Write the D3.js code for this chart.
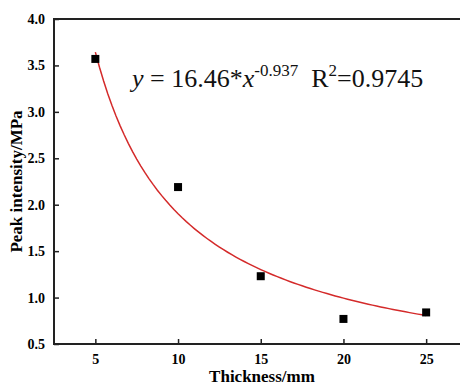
<!DOCTYPE html>
<html>
<head>
<meta charset="utf-8">
<script src="https://cdn.jsdelivr.net/npm/d3@7"></script>
<style>
  body { margin: 0; background: #fff; }
</style>
</head>
<body>
<svg width="460" height="387"></svg>
<script>
// measured points
const thickness = [5, 10, 15, 20, 25];
const peak = [3.57, 2.19, 1.23, 0.77, 0.84];

// fitted power law y = a * x^b (from the label)
const fitA = 16.46;
const fitB = -0.937;
const fitR2 = "0.9745";

const xTicks = [5, 10, 15, 20, 25];
const yTicks = [0.5, 1.0, 1.5, 2.0, 2.5, 3.0, 3.5, 4.0];

const serif = "'Liberation Serif', 'Times New Roman', Times, serif";

const svg = d3.select("svg").attr("font-family", serif);

const x = d3.scaleLinear().domain([2.5, 27.5]).range([54, 467.5]);
const y = d3.scaleLinear().domain([0.5, 4.0]).range([344, 19]);

// frame
svg.append("rect")
    .attr("x", x(2.5)).attr("y", y(4.0))
    .attr("width", x(27.5) - x(2.5)).attr("height", y(0.5) - y(4.0))
    .attr("fill", "none").attr("stroke", "#222").attr("stroke-width", 2);

// axes, ticks pointing inward
const xAxis = svg.append("g")
    .attr("transform", "translate(0," + y(0.5) + ")")
    .call(d3.axisBottom(x).tickValues(xTicks).tickSizeInner(-5).tickSizeOuter(0).tickPadding(10));
const yAxis = svg.append("g")
    .attr("transform", "translate(" + x(2.5) + ",0)")
    .call(d3.axisLeft(y).tickValues(yTicks).tickFormat(d3.format(".1f")).tickSizeInner(-5).tickSizeOuter(0).tickPadding(9));

[xAxis, yAxis].forEach(g => {
    g.attr("font-family", serif).attr("font-size", 14).attr("font-weight", "bold");
    g.select(".domain").remove();
    g.selectAll(".tick line").attr("stroke", "#222").attr("stroke-width", 1.5);
    g.selectAll(".tick text").attr("fill", "#000");
});

// fit curve
const curveX = d3.range(5, 25.01, 0.25);
svg.append("path")
    .datum(curveX)
    .attr("fill", "none")
    .attr("stroke", "#d42a2a")
    .attr("stroke-width", 1.5)
    .attr("d", d3.line().x(d => x(d)).y(d => y(fitA * Math.pow(d, fitB))));

// points
svg.selectAll(".pt")
    .data(thickness)
    .enter().append("rect")
    .attr("class", "pt")
    .attr("x", d => x(d) - 4)
    .attr("y", (d, i) => y(peak[i]) - 4)
    .attr("width", 8).attr("height", 8)
    .attr("fill", "#000");

// equation
const eq = svg.append("text")
    .attr("x", 132).attr("y", 87)
    .attr("font-size", 26).attr("fill", "#111");
eq.append("tspan").attr("font-style", "italic").text("y");
eq.append("tspan").text(" = " + fitA + "*");
eq.append("tspan").attr("font-style", "italic").text("x");
eq.append("tspan").attr("font-size", 17).attr("dy", -11).text(fitB);
eq.append("tspan").attr("dy", 11).text("\u00a0\u00a0R");
eq.append("tspan").attr("font-size", 17).attr("dy", -11).text("2");
eq.append("tspan").attr("dy", 11).text("=" + fitR2);

// axis titles
svg.append("text")
    .attr("x", 262).attr("y", 382)
    .attr("text-anchor", "middle")
    .attr("font-weight", "bold").attr("font-size", 17)
    .text("Thickness/mm");

svg.append("text")
    .attr("transform", "translate(22," + y(2.25) + ") rotate(-90)")
    .attr("text-anchor", "middle")
    .attr("font-weight", "bold").attr("font-size", 17)
    .text("Peak intensity/MPa");
</script>
</body>
</html>
